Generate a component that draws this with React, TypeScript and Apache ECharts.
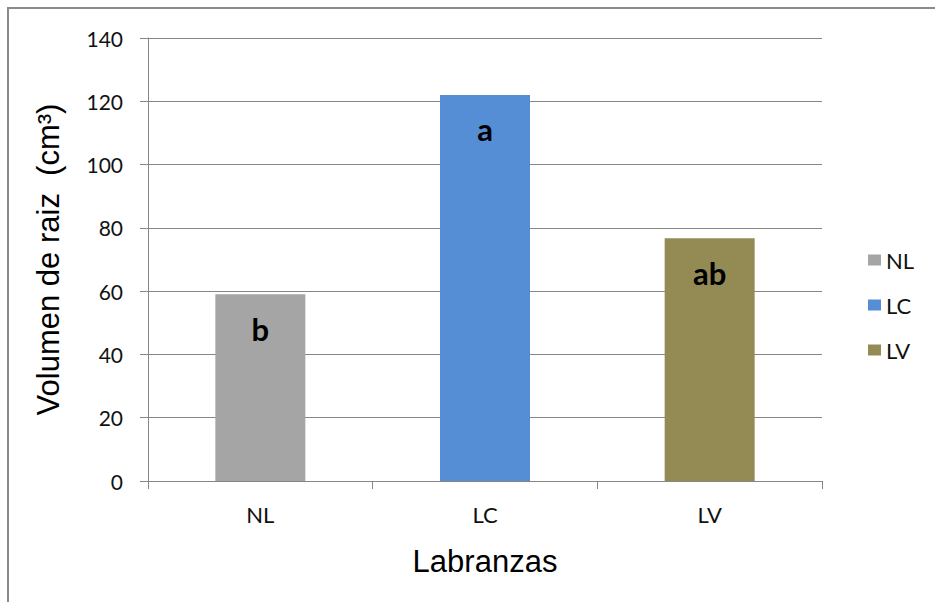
import React, { useEffect, useRef } from "react";
import * as echarts from "echarts";

const categories = ["NL", "LC", "LV"];
const values = [59, 122, 76.7];
const letters = ["b", "a", "ab"];
const colors = ["#A5A5A5", "#558ED5", "#948A54"];
const yTicks = [0, 20, 40, 60, 80, 100, 120, 140];

const FONT = "Lato, 'Open Sans', 'Liberation Sans', sans-serif";
const TITLE_FONT = "'Liberation Sans', Arial, sans-serif";

export default function App() {
  const ref = useRef<HTMLDivElement>(null);
  useEffect(() => {
    if (!ref.current) return;
    const chart = echarts.init(ref.current, undefined, { renderer: "svg" });
    const series = categories.map((c, i) => ({
      name: c,
      type: "bar",
      stack: "s",
      barWidth: 90,
      data: categories.map((_, j) => (j === i ? values[i] : null)),
      itemStyle: { color: colors[i] },
      label: {
        show: true,
        position: "insideTop",
        distance: 19,
        formatter: () => letters[i],
        color: "#000",
        fontWeight: "bold",
        fontSize: 31,
        fontFamily: FONT,
      },
    }));
    chart.setOption({
      animation: false,
      backgroundColor: "#fff",
      textStyle: { fontFamily: FONT },
      graphic: [
        {
          type: "rect",
          shape: { x: 8, y: 8, width: 1000, height: 1000 },
          style: { fill: "none", stroke: "#8a8a8a", lineWidth: 2 },
          silent: true,
        },
      ],
      grid: { left: 148, right: 113, top: 38, bottom: 121 },
      legend: {
        orient: "vertical",
        left: 863,
        top: 244,
        itemGap: 23,
        itemWidth: 13,
        itemHeight: 11,
        itemStyle: { borderWidth: 0 },
        icon: "rect",
        textStyle: { fontSize: 22, color: "#111", fontFamily: FONT },
        data: categories,
      },
      xAxis: {
        type: "category",
        data: categories,
        name: "Labranzas",
        nameLocation: "middle",
        nameGap: 65,
        nameTextStyle: { fontSize: 31, color: "#000", fontFamily: TITLE_FONT },
        axisLine: { lineStyle: { color: "#868686", width: 1 } },
        axisTick: { show: true, length: 8, alignWithLabel: false, lineStyle: { color: "#868686" } },
        axisLabel: { fontSize: 22, color: "#111", margin: 22, fontFamily: FONT },
      },
      yAxis: {
        type: "value",
        min: yTicks[0],
        max: yTicks[yTicks.length - 1],
        interval: 20,
        name: "Volumen de raiz  (cm³)",
        nameLocation: "middle",
        nameGap: 84,
        nameTextStyle: { fontSize: 31, color: "#000", fontFamily: TITLE_FONT },
        axisLine: { show: true, lineStyle: { color: "#868686", width: 1 } },
        axisTick: { show: true, length: 8, lineStyle: { color: "#868686" } },
        splitLine: { lineStyle: { color: "#868686", width: 1 } },
        axisLabel: { fontSize: 21, color: "#111", margin: 25, fontFamily: FONT },
      },
      series,
    });
    return () => chart.dispose();
  }, []);
  return (
    <div
      ref={ref}
      style={{ position: "fixed", left: 0, top: 0, width: 935, height: 602 }}
    />
  );
}
